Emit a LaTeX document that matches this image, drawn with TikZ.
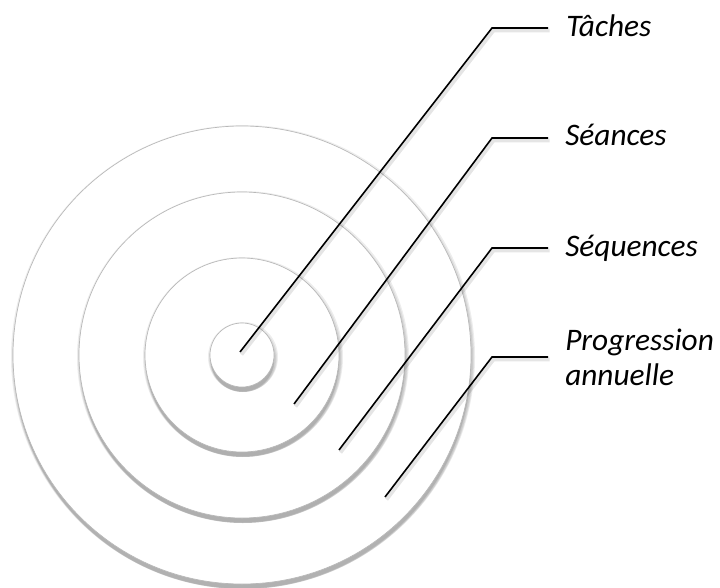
\documentclass[tikz,border=0pt]{standalone}
\usepackage{fontspec}
\setmainfont{Carlito}
\usetikzlibrary{calc}

\begin{document}
\begin{tikzpicture}[x=0.75pt, y=-0.75pt,
    ring/.style={fill=white, draw=black!28, line width=0.5pt},
    ringshade/.style={fill=black, opacity=0.07},
    leader/.style={line width=1.2pt, line join=miter},
    leadershade/.style={line width=2.8pt, draw=black, opacity=0.10,
      transform canvas={shift={(1.5,2.5)}}},
    lbl/.style={inner sep=0pt, font=\fontsize{23.5}{26}\selectfont\itshape}]
  % one ring: soft shadow below, then the white disc
  \newcommand{\ringat}[1]{%
    \fill[ringshade] ($(c)+(1,2)$) circle[radius=#1+3];
    \fill[ringshade] ($(c)+(1,3)$) circle[radius=#1+2];
    \fill[ringshade] ($(c)+(1,4)$) circle[radius=#1+1];
    \fill[ringshade] ($(c)+(0.5,5)$) circle[radius=#1];
    \fill[ringshade] ($(c)+(0.5,5)$) circle[radius=#1-0.5];
    \draw[ring] (c) circle[radius=#1];
  }
  \useasboundingbox (0,0) rectangle (720,588);
  \coordinate (c) at (242,355);
  % ---------------------------------------------------------------- rings
  \ringat{229}
  \ringat{163}
  \ringat{97}
  \ringat{32}
  % ---------------------------------------------------------------- labels
  \node[lbl, anchor=base west] (taches) at (566,37) {Tâches};
  \node[lbl, anchor=base west] (seances) at (565,146) {Séances};
  \node[lbl, anchor=base west] (sequences) at (565,256) {Séquences};
  \node[lbl, anchor=west, align=left] (progression) at (565,357) {Progression\\annuelle};
  % leader lines: start inside a ring, bend at x=492, stop short of the text
  \coordinate (s1) at (240,352); \coordinate (k1) at (492,28);  \coordinate (e1) at (548,28);
  \coordinate (s2) at (294,404); \coordinate (k2) at (492,138); \coordinate (e2) at (548,138);
  \coordinate (s3) at (339,450); \coordinate (k3) at (492,248); \coordinate (e3) at (548,248);
  \coordinate (s4) at (385,497); \coordinate (k4) at (492,357); \coordinate (e4) at (548,357);
  \draw[leadershade] (s1) -- (k1) -- (e1);
  \draw[leadershade] (s2) -- (k2) -- (e2);
  \draw[leadershade] (s3) -- (k3) -- (e3);
  \draw[leadershade] (s4) -- (k4) -- (e4);
  \draw[leader] (s1) -- (k1) -- (e1);
  \draw[leader] (s2) -- (k2) -- (e2);
  \draw[leader] (s3) -- (k3) -- (e3);
  \draw[leader] (s4) -- (k4) -- (e4);
\end{tikzpicture}
\end{document}
